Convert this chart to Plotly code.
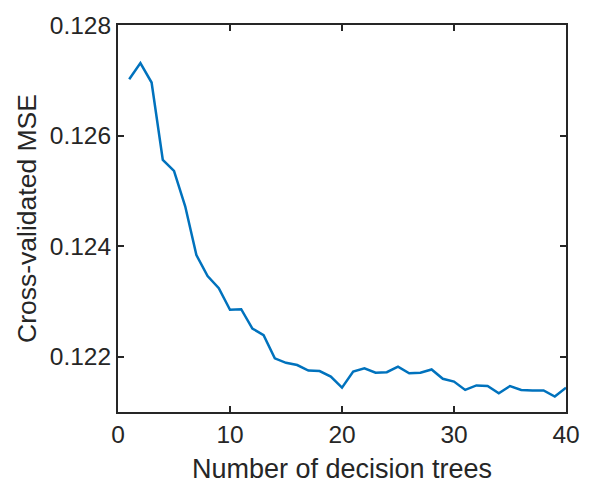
import plotly.graph_objects as go

n_trees = list(range(1, 41))
mse = [0.12702, 0.12731, 0.12696, 0.12556, 0.12536, 0.12472, 0.12384, 0.12346, 0.12324, 0.12285,
       0.12286, 0.12251, 0.12239, 0.12197, 0.12189, 0.12185, 0.12175, 0.12174, 0.12164, 0.12144,
       0.12173, 0.12179, 0.12171, 0.12172, 0.12182, 0.12170, 0.12171, 0.12177, 0.12160, 0.12155,
       0.12140, 0.12148, 0.12147, 0.12134, 0.12147, 0.12140, 0.12139, 0.12139, 0.12128, 0.12144]
x_ticks = [0, 10, 20, 30, 40]
y_ticks = [0.122, 0.124, 0.126, 0.128]

FONT = "Liberation Sans, Arial"
axis_common = dict(showline=True, linecolor="#262626", linewidth=2, mirror="ticks",
                   ticks="inside", ticklen=6, tickwidth=2, tickcolor="#262626",
                   showgrid=False, zeroline=False,
                   tickfont=dict(family=FONT, size=24.5, color="#262626"))

fig = go.Figure()
fig.add_trace(go.Scatter(x=n_trees, y=mse, mode="lines",
                         line=dict(color="#0072BD", width=2.5), showlegend=False))

fig.update_layout(
    width=592, height=491,
    margin=dict(l=118, r=22, t=14, b=77),
    paper_bgcolor="white", plot_bgcolor="white",
    xaxis=dict(range=[0, 40], tickvals=x_ticks, ticktext=[str(v) for v in x_ticks],
               title=dict(text="Number of decision trees",
                          font=dict(family=FONT, size=27, color="#262626"),
                          standoff=12),
               **axis_common),
    yaxis=dict(range=[0.121, 0.128], tickvals=y_ticks, ticktext=[f"{v:.3f}" for v in y_ticks],
               title=dict(text="Cross-validated MSE",
                          font=dict(family=FONT, size=26.5, color="#262626"),
                          standoff=6),
               **axis_common),
)

fig.write_html("out.html")
